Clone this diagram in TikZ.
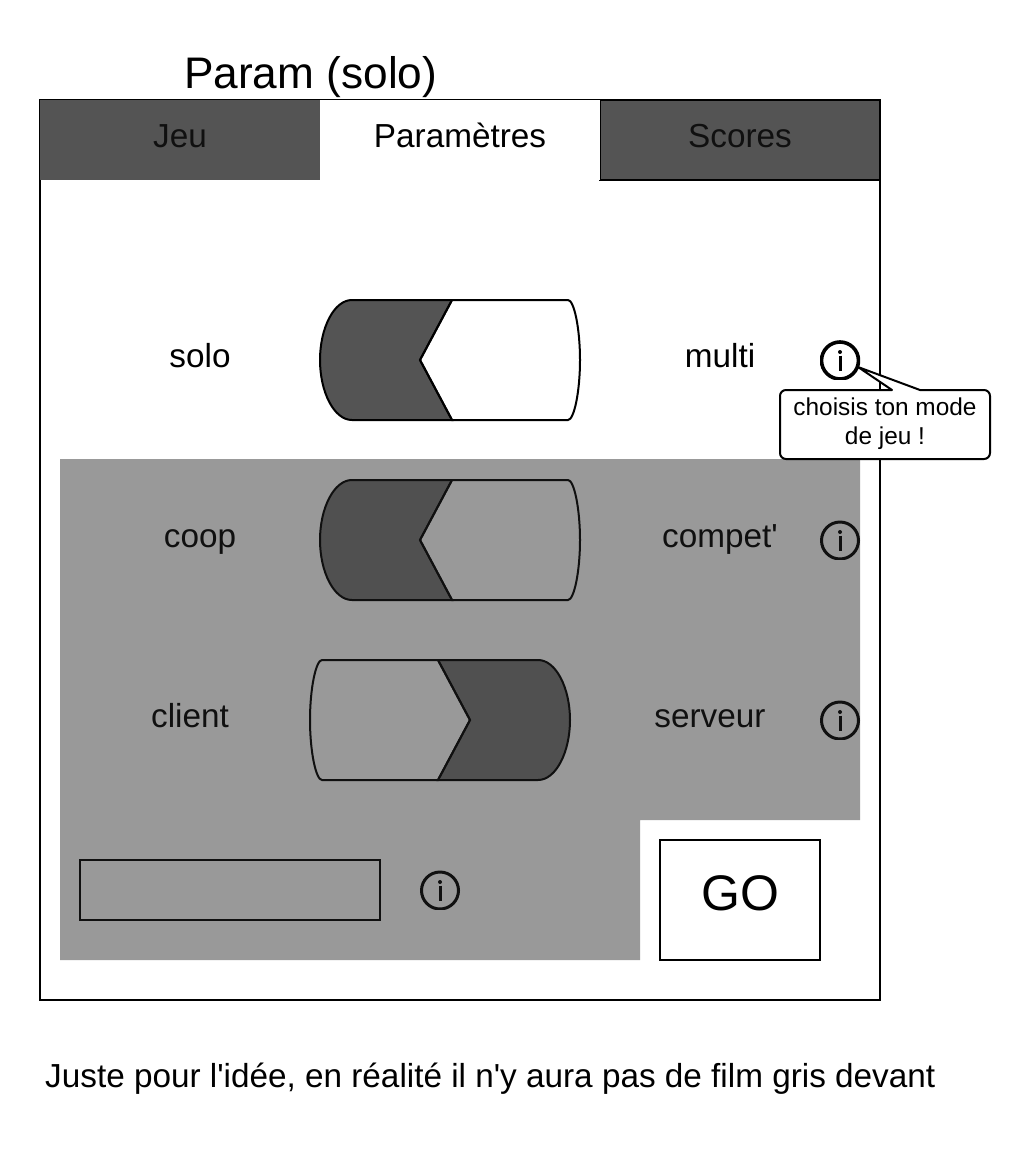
\documentclass[tikz,border=0pt]{standalone}
\usepackage{fontspec}
\setmainfont{Liberation Sans}
\newfontfamily\plainfont{Liberation Sans}
\definecolor{darkfill}{HTML}{545454}
\definecolor{filmgray}{HTML}{999999}
\definecolor{filmink}{HTML}{101010}
\definecolor{filmdark}{HTML}{505050}
% x, y, colour, ring width
\newcommand{\infoicon}[4]{%
  \begin{scope}
    \clip (#1-20,#2-20) rectangle (#1+20,#2+19);
    \draw[color=#3,line width=#4] (#1,#2+0.5) circle [radius=18.5];
    \draw[color=#3,line width=3pt] (#1,#2-4.5) -- (#1,#2+11);
    \fill[color=#3] (#1,#2-8) circle [radius=2];
  \end{scope}}
\newcommand{\toggleleft}[4]{% x offset, y offset, fill, draw
  \draw[fill=#3,draw=#4,line width=2pt,shift={(#1,#2)}]
    (132,0) -- (32,0) .. controls (14,0) and (0,28) .. (0,60)
    .. controls (0,92) and (14,120) .. (32,120) -- (132,120) -- (100,60) -- cycle;
  \draw[draw=#4,line width=2pt,shift={(#1,#2)}]
    (132,0) -- (248,0) .. controls (254,0) and (260,28) .. (260,60)
    .. controls (260,92) and (254,120) .. (248,120) -- (132,120) -- (100,60) -- cycle;}
\tikzset{
  labeltext/.style={anchor=base,inner sep=0pt,font=\fontsize{33.3}{40}\selectfont},
  tab/.style={anchor=north west,minimum width=280pt,minimum height=80pt,inner sep=0pt,outer sep=0pt},
  filmlabel/.style={labeltext,text=filmink},
  calloutlabel/.style={anchor=base,inner sep=0pt,font=\fontsize{24.4}{29}\selectfont}
}
\begin{document}
\begin{tikzpicture}[x=1pt,y=-1pt]
\plainfont
\useasboundingbox (0,0) rectangle (1030,1165);
% frame
\node[draw=black,line width=2pt,anchor=north west,minimum width=840pt,minimum height=900pt,inner sep=0pt,outer sep=0pt] (frame) at (40,100) {};
% tabs
\node[tab,fill=darkfill] (tabjeu) at (40,100) {};
\node[tab,fill=darkfill,draw=black,line width=2pt] (tabscores) at (600,100) {};
\node[tab,fill=white] (tabparam) at (320,100) {};
\node[filmlabel] (jeu) at (180,147) {Jeu};
\node[labeltext] (parametres) at (460,147) {Paramètres};
\node[filmlabel] (scores) at (740,147) {Scores};
\node[anchor=base west,inner sep=0pt,font=\fontsize{44.2}{52}\selectfont] (title) at (184,88) {Param (solo)};
% first row
\toggleleft{320}{300}{darkfill}{black}
\node[labeltext] (solo) at (200,367) {solo};
\node[labeltext] (multi) at (720,367) {multi};
\infoicon{840}{360}{black}{3.6pt}
% film
\fill[filmgray] (60,459) -- (860,459) -- (860,820) -- (640,820) -- (640,960) -- (60,960) -- cycle;
% second row
\toggleleft{320}{480}{filmdark}{filmink}
\node[filmlabel] (coop) at (200,547) {coop};
\node[filmlabel] (compet) at (720,547) {compet'};
\infoicon{840}{540}{filmink}{3pt}
% third row
\draw[fill=filmdark,draw=filmink,line width=2pt]
  (438,660) -- (538,660) .. controls (556,660) and (570,688) .. (570,720)
  .. controls (570,752) and (556,780) .. (538,780) -- (438,780) -- (470,720) -- cycle;
\draw[draw=filmink,line width=2pt]
  (438,660) -- (322,660) .. controls (316,660) and (310,688) .. (310,720)
  .. controls (310,752) and (316,780) .. (322,780) -- (438,780) -- (470,720) -- cycle;
\node[filmlabel] (client) at (190,727) {client};
\node[filmlabel] (serveur) at (710,727) {serveur};
\infoicon{840}{720}{filmink}{3pt}
% input
\node[draw=filmink,line width=2pt,anchor=north west,minimum width=300pt,minimum height=60pt,inner sep=0pt,outer sep=0pt] (input) at (80,860) {};
\infoicon{440}{890}{filmink}{3pt}
% GO
\node[draw=black,fill=white,line width=2pt,anchor=north west,minimum width=160pt,minimum height=120pt,inner sep=0pt,outer sep=0pt] (gobox) at (660,840) {};
\node[anchor=base,inner sep=0pt,font=\fontsize{50}{60}\selectfont] (go) at (740,910) {GO};
% callout
\draw[fill=white,draw=black,line width=2pt,line join=round]
  (858,367) -- (920,390) -- (984,390) arc[start angle=-90,end angle=0,radius=6] -- (990,453)
  arc[start angle=0,end angle=90,radius=6] -- (786,459)
  arc[start angle=90,end angle=180,radius=6] -- (780,396)
  arc[start angle=180,end angle=270,radius=6] -- (892,390) -- cycle;
\node[calloutlabel] (calloutone) at (885,415) {choisis ton mode};
\node[calloutlabel] (callouttwo) at (885,444) {de jeu !};
% note
\node[anchor=base west,inner sep=0pt,font=\fontsize{33.3}{40}\selectfont] (note) at (45,1087) {Juste pour l'idée, en réalité il n'y aura pas de film gris devant};
\end{tikzpicture}
\end{document}
